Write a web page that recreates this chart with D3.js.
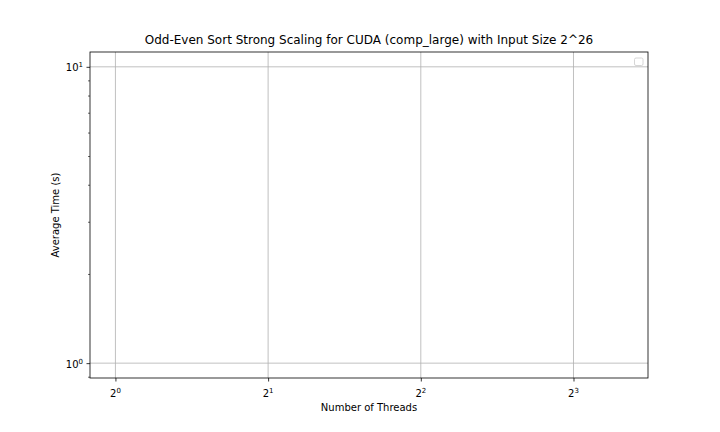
<!DOCTYPE html>
<html>
<head>
<meta charset="utf-8">
<script src="https://cdn.jsdelivr.net/npm/d3@7"></script>
<style>
  html, body { margin: 0; padding: 0; background: #fff; }
  svg { display: block; font-family: "DejaVu Sans", sans-serif; }
</style>
</head>
<body>
<svg id="chart" width="720" height="432"></svg>
<script>
// ---- data (the reference plot contains no data series) ----
const threads = [];            // x values (number of threads)
const avgTimes = [];           // y values (average time, s)
const xTickValues = [1, 2, 4, 8];
const xTickExponents = ["0", "1", "2", "3"];
const yTickValues = [1, 10];
const yTickExponents = ["0", "1"];
const yMinorTicks = [0.9, 2, 3, 4, 5, 6, 7, 8, 9];
const xDomain = [0.891, 11.22];
const yDomain = [0.891, 11.22];
const titleText = "Odd-Even Sort Strong Scaling for CUDA (comp_large) with Input Size 2^26";
const xLabelText = "Number of Threads";
const yLabelText = "Average Time (s)";

const svg = d3.select("#chart");
const L = 90, R = 648, T = 52, B = 378;

const x = d3.scaleLog().base(2).domain(xDomain).range([L, R]);
const y = d3.scaleLog().base(10).domain(yDomain).range([B, T]);

// grid
const grid = svg.append("g");
grid.selectAll("line.gx").data(xTickValues).enter().append("line")
  .attr("x1", d => x(d)).attr("x2", d => x(d)).attr("y1", T).attr("y2", B)
  .attr("stroke", "#b0b0b0").attr("stroke-width", 0.8);
grid.selectAll("line.gy").data(yTickValues).enter().append("line")
  .attr("x1", L).attr("x2", R).attr("y1", d => y(d)).attr("y2", d => y(d))
  .attr("stroke", "#b0b0b0").attr("stroke-width", 0.8);

// series (empty)
const line = d3.line().x(d => x(d[0])).y(d => y(d[1]));
const pts = threads.map((t, i) => [t, avgTimes[i]]);
if (pts.length) {
  svg.append("path").datum(pts).attr("d", line).attr("fill", "none").attr("stroke", "#1f77b4");
}

// x axis
const xAxis = d3.axisBottom(x).tickValues(xTickValues).tickSize(3.5).tickPadding(3.5).tickFormat("");
const gx = svg.append("g").attr("transform", `translate(0,${B})`).call(xAxis);
gx.select(".domain").remove();
gx.selectAll(".tick line").attr("stroke", "#000").attr("stroke-width", 0.8);
xTickValues.forEach((v, i) => {
  const t = svg.append("text").attr("x", x(v)).attr("y", 396.5)
    .attr("text-anchor", "middle").attr("font-size", 10).attr("fill", "#000");
  t.append("tspan").text("2");
  t.append("tspan").attr("dy", -4).attr("font-size", 7).text(xTickExponents[i]);
});

// y axis
const yAxis = d3.axisLeft(y).tickValues(yTickValues).tickSize(3.5).tickFormat("");
const gy = svg.append("g").attr("transform", `translate(${L},0)`).call(yAxis);
gy.select(".domain").remove();
gy.selectAll(".tick line").attr("stroke", "#000").attr("stroke-width", 0.8);
const yMinor = d3.axisLeft(y).tickValues(yMinorTicks).tickSize(2).tickFormat("");
const gym = svg.append("g").attr("transform", `translate(${L},0)`).call(yMinor);
gym.select(".domain").remove();
gym.selectAll(".tick line").attr("stroke", "#000").attr("stroke-width", 0.6);
yTickValues.forEach((v, i) => {
  const t = svg.append("text").attr("x", 83).attr("y", y(v) + 4.5)
    .attr("text-anchor", "end").attr("font-size", 10).attr("fill", "#000");
  t.append("tspan").text("10");
  t.append("tspan").attr("dy", -4).attr("font-size", 7).text(yTickExponents[i]);
});

// frame
svg.append("rect").attr("x", L).attr("y", T).attr("width", R - L).attr("height", B - T)
  .attr("fill", "none").attr("stroke", "#000").attr("stroke-width", 0.8);

// empty legend
svg.append("rect").attr("x", 634.5).attr("y", 58).attr("width", 8.5).attr("height", 7.5)
  .attr("rx", 1.5).attr("fill", "#fff").attr("stroke", "#cccccc").attr("stroke-width", 0.8);

// labels
svg.append("text").attr("x", (L + R) / 2).attr("y", 43.8).attr("text-anchor", "middle")
  .attr("font-size", 12).attr("fill", "#000").text(titleText);
svg.append("text").attr("x", (L + R) / 2).attr("y", 411).attr("text-anchor", "middle")
  .attr("font-size", 10).attr("fill", "#000").text(xLabelText);
svg.append("text").attr("transform", `translate(58.5,${(T + B) / 2}) rotate(-90)`)
  .attr("text-anchor", "middle").attr("font-size", 10).attr("fill", "#000").text(yLabelText);
</script>
</body>
</html>
